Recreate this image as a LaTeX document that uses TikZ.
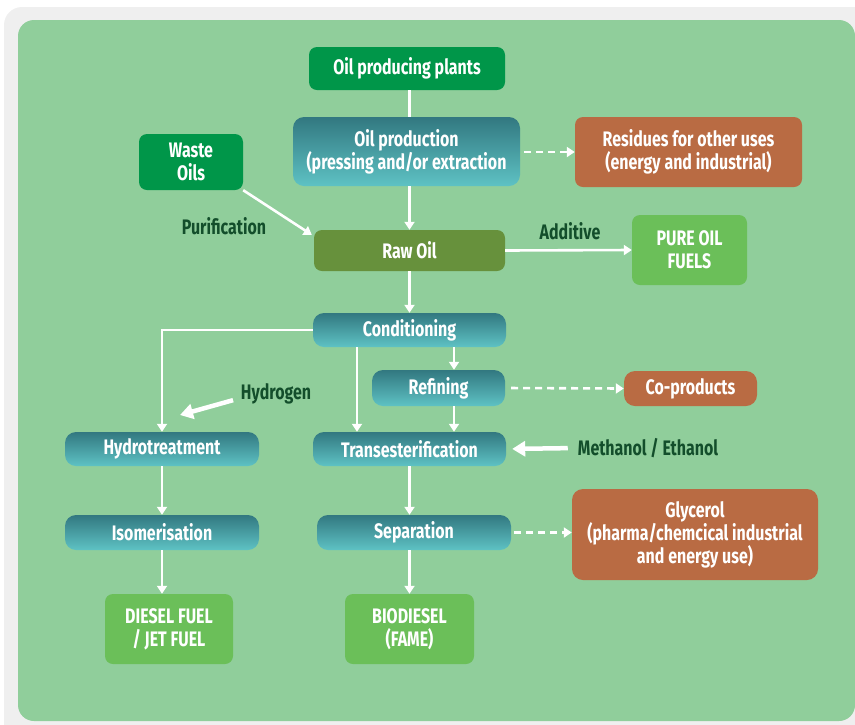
\documentclass[tikz,border=0pt]{standalone}
\usepackage{fontspec}
\setmainfont{Fira Sans}[FakeStretch=0.76]
\usetikzlibrary{arrows.meta,calc}
\definecolor{bgout}{HTML}{EFEFEF}
\definecolor{panel}{HTML}{90CE9B}
\definecolor{dkgreen}{HTML}{009649}
\definecolor{olive}{HTML}{67913C}
\definecolor{ltgreen}{HTML}{6BBF59}
\definecolor{brown}{HTML}{B96B43}
\definecolor{tealtop}{HTML}{327880}
\definecolor{tealbot}{HTML}{5EC2C4}
\definecolor{lbl}{HTML}{134E2B}
\tikzset{
  box/.style={rounded corners=8pt, text=white, align=center, inner sep=0pt,
    font=\bfseries\fontsize{21}{23}\selectfont},
  tealbox/.style={box, top color=tealtop, bottom color=tealbot, rounded corners=11pt},
  lab/.style={text=lbl, inner sep=0pt, font=\bfseries\fontsize{21}{23}\selectfont},
  flow/.style={draw=white, line width=2.6pt, -{Triangle[length=8pt,width=10pt]}},
  plain/.style={draw=white, line width=2.6pt},
  dflow/.style={draw=white, line width=2.6pt, dash pattern=on 7pt off 5pt,
    -{Triangle[length=8pt,width=10pt]}},
  thick/.style={draw=white, line width=4.5pt, -{Triangle[length=13pt,width=15pt]}}
}
\begin{document}
\begin{tikzpicture}[x=1pt,y=-1pt]
\useasboundingbox (0,0) rectangle (855,724);
\begin{scope}
\clip (0,0) rectangle (855,724);
\fill[bgout] (4,7) [rounded corners=18pt] rectangle (880,750);
\fill[panel] (18,20) [rounded corners=16pt] rectangle (855,721);
\end{scope}
% nodes
\node[box, fill=dkgreen, minimum width=196pt, minimum height=43pt] (plants) at (407,68.5) {Oil producing plants};
\node[tealbox, minimum width=227pt, minimum height=69pt] (prod) at (406.5,151.5) {Oil production\\(pressing and/or extraction};
\node[box, fill=brown, minimum width=227pt, minimum height=70pt] (resid) at (688.5,152) {Residues for other uses\\(energy and industrial)};
\node[box, fill=dkgreen, minimum width=104pt, minimum height=56pt] (waste) at (191,162) {Waste\\Oils};
\node[box, fill=olive, minimum width=191pt, minimum height=41pt] (raw) at (409.5,250.5) {Raw Oil};
\node[box, fill=ltgreen, minimum width=115pt, minimum height=70pt] (pure) at (689.5,250) {PURE OIL\\FUELS};
\node[tealbox, minimum width=193pt, minimum height=34pt] (cond) at (409.5,330) {Conditioning};
\node[tealbox, minimum width=133pt, minimum height=36pt] (ref) at (438.5,388) {Refining};
\node[box, fill=brown, minimum width=133pt, minimum height=35pt, rounded corners=11pt] (cop) at (690.5,388.5) {Co-products};
\node[tealbox, minimum width=194pt, minimum height=34pt] (hydro) at (162,449) {Hydrotreatment};
\node[tealbox, minimum width=193pt, minimum height=34pt] (trans) at (409.5,449) {Transesterification};
\node[tealbox, minimum width=194pt, minimum height=35pt] (iso) at (162,532.5) {Isomerisation};
\node[tealbox, minimum width=194pt, minimum height=35pt] (sep) at (414,532.5) {Separation};
\node[box, fill=brown, minimum width=246pt, minimum height=91pt, rounded corners=11pt] (gly) at (695,534.5) {Glycerol\\(pharma/chemcical industrial\\and energy use)};
\node[box, fill=ltgreen, minimum width=128pt, minimum height=70pt] (diesel) at (169,629) {DIESEL FUEL\\/ JET FUEL};
\node[box, fill=ltgreen, minimum width=129pt, minimum height=70pt] (bio) at (409.5,629) {BIODIESEL\\(FAME)};
% labels
\node[lab] (purif) at (224,226) {Purification};
\node[lab] (addit) at (570,231) {Additive};
\node[lab] (hlab) at (276,394) {Hydrogen};
\node[lab] (meth) at (648,448) {Methanol / Ethanol};
% helper coordinates
\coordinate (cxa) at (357,0);
\coordinate (cxb) at (454,0);
\coordinate (htip) at (180,415);
% connectors
\draw[plain] (plants.south -| raw.center) -- (prod.north -| raw.center);
\draw[flow] (prod.south -| raw.center) -- (raw.north);
\draw[flow] (waste.south east) -- ($(raw.north west)+(-2,5)$);
\draw[dflow, shorten <=4pt] (prod.east |- resid.west) -- (resid.west);
\draw[flow] (raw.east) -- (pure.west);
\draw[flow] (raw.south) -- (cond.north);
\draw[flow] (cond.west) -| (hydro.north);
\draw[flow] (cond.south -| cxa) -- (trans.north -| cxa);
\draw[flow] (cond.south -| cxb) -- (ref.north -| cxb);
\draw[flow] (ref.south -| cxb) -- (trans.north -| cxb);
\draw[dflow, shorten <=6pt] (ref.east) -- (cop.west);
\draw[thick, shorten <=8pt] ($(hlab.west)+(0,4)$) -- (htip);
\draw[thick, shorten <=10pt, shorten >=6pt] (meth.west) -- (trans.east);
\draw[flow] (trans.south -| raw.center) -- (sep.north -| raw.center);
\draw[dflow, shorten <=3pt] (sep.east) -- (gly.west |- sep.east);
\draw[flow] (sep.south -| bio.center) -- (bio.north);
\draw[flow] (hydro.south) -- (iso.north);
\draw[flow] (iso.south) -- (iso.south |- diesel.north);
\end{tikzpicture}
\end{document}
